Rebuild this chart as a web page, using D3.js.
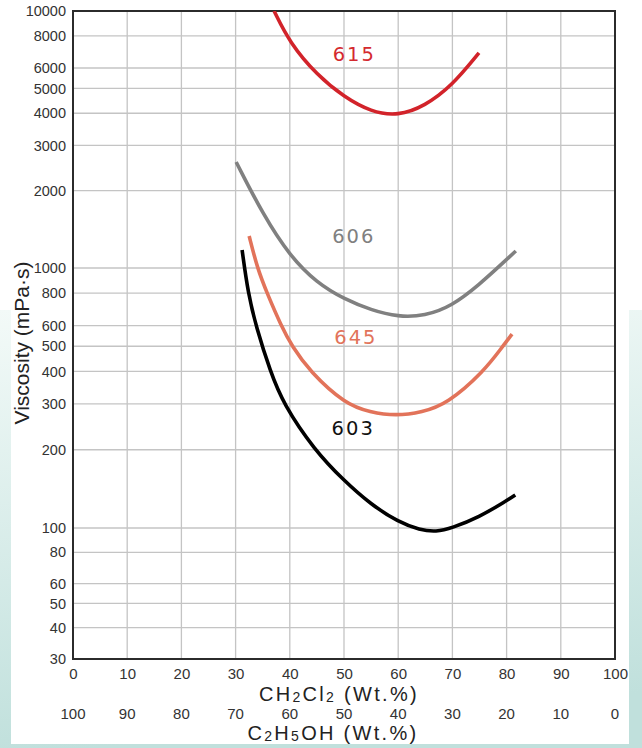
<!DOCTYPE html>
<html>
<head>
<meta charset="utf-8">
<script src="https://cdn.jsdelivr.net/npm/d3@7"></script>
<style>
	body { margin: 0; padding: 0; background: #fff; }
	svg { display: block; }
</style>
</head>
<body>
<div id="chart"></div>
<script>

// tick values and labels
var xTicks = [0, 10, 20, 30, 40, 50, 60, 70, 80, 90, 100];
var ethanolLabels = [100, 90, 80, 70, 60, 50, 40, 30, 20, 10, 0];
var yTicks = [30, 40, 50, 60, 80, 100, 200, 300, 400, 500, 600, 800, 1000, 2000, 3000, 4000, 5000, 6000, 8000, 10000];

// viscosity curves: [CH2Cl2 wt%, viscosity mPa·s]
var grade615 = [[37.1, 10000], [40.0, 7515], [45.0, 5641], [50.0, 4630], [55.0, 4048], [60.0, 3906], [64.9, 4269], [69.9, 5108], [74.9, 6867]];
var grade606 = [[30.1, 2585], [35.1, 1608], [40.0, 1114], [45.0, 876], [50.0, 760], [55.0, 689], [60.0, 648], [64.9, 654], [69.9, 714], [74.9, 860], [79.9, 1074], [81.7, 1165]];
var grade645 = [[32.5, 1332], [34.0, 1000], [35.8, 800], [38.4, 600], [40.4, 500], [43.7, 400], [50.2, 300], [54.8, 279], [59.6, 270], [64.4, 279], [69.0, 300], [75.8, 400], [79.3, 500], [81.0, 557]];
var grade603 = [[31.2, 1175], [32.3, 800], [33.8, 593], [36.4, 400], [38.8, 300], [44.5, 200], [50.0, 152], [55.0, 123], [60.0, 105.5], [64.0, 98.2], [67.0, 96.4], [69.9, 100], [74.9, 110], [79.9, 127], [81.6, 134]];

var gradeNames = ["615", "606", "645", "603"];
var gradeColors = ["#d2232a", "#808080", "#e2735a", "#000000"];
var labelColors = ["#d42a2f", "#808080", "#e2735a", "#111111"];
// label anchor, in data units
var labelPos = [[51.9, 6833], [51.8, 1332], [52.2, 543], [51.7, 242]];

function main(){

	var width = 642,
		height = 748;

	var left = 73, right = 615, top = 11, bottom = 659;

	var svg = d3.select("#chart").append("svg")
		.attr("width", width)
		.attr("height", height);

	// background panel
	var defs = svg.append("defs");
	var grad = defs.append("linearGradient")
		.attr("id", "bg")
		.attr("x1", 0).attr("y1", 0)
		.attr("x2", 0.15).attr("y2", 1);
	grad.append("stop").attr("offset", "0%").attr("stop-color", "#f3faf8");
	grad.append("stop").attr("offset", "100%").attr("stop-color", "#c0e0dc");

	defs.append("clipPath").attr("id", "plotclip")
		.append("rect")
		.attr("x", left).attr("y", top)
		.attr("width", right - left).attr("height", bottom - top);

	svg.append("rect")
		.attr("x", 0).attr("y", 310)
		.attr("width", width).attr("height", height - 310)
		.attr("fill", "url(#bg)");
	svg.append("rect")
		.attr("x", 11).attr("y", 0)
		.attr("width", 618).attr("height", 744)
		.attr("fill", "#ffffff");

	// scales (the printed log grid is not quite even, so map each decade)
	var x = d3.scaleLinear().domain([0, 100]).range([left, right]);
	var y = d3.scaleLog().domain([30, 100, 1000, 10000]).range([bottom, 528, 268, top]);

	// grid
	svg.append("g").selectAll("line")
		.data(xTicks)
		.enter().append("line")
		.attr("x1", d => x(d)).attr("x2", d => x(d))
		.attr("y1", top).attr("y2", bottom)
		.attr("stroke", "#c4c4c4")
		.attr("stroke-width", 1.3);

	svg.append("g").selectAll("line")
		.data(yTicks)
		.enter().append("line")
		.attr("x1", left).attr("x2", right)
		.attr("y1", d => y(d)).attr("y2", d => y(d))
		.attr("stroke", "#c4c4c4")
		.attr("stroke-width", 1.3);

	// frame
	svg.append("rect")
		.attr("x", left).attr("y", top)
		.attr("width", right - left).attr("height", bottom - top)
		.attr("fill", "none")
		.attr("stroke", "#2b2b2b")
		.attr("stroke-width", 2);

	// y axis labels
	var yAxis = d3.axisLeft(y).tickValues(yTicks).tickFormat(d3.format("d")).tickSize(0).tickPadding(7);
	var yg = svg.append("g")
		.attr("transform", "translate(" + left + ",0)")
		.call(yAxis);
	yg.select(".domain").remove();
	yg.selectAll("text")
		.attr("font-family", "'Liberation Sans', Arial, sans-serif")
		.attr("font-size", 14.5)
		.attr("fill", "#333");

	// x axis labels (CH2Cl2)
	var xAxis = d3.axisBottom(x).tickValues(xTicks).tickFormat(d3.format("d")).tickSize(0).tickPadding(0);
	var xg = svg.append("g")
		.attr("transform", "translate(0," + bottom + ")")
		.call(xAxis);
	xg.select(".domain").remove();
	xg.selectAll("text")
		.attr("dy", null)
		.attr("y", 20)
		.attr("font-family", "'Liberation Sans', Arial, sans-serif")
		.attr("font-size", 15)
		.attr("fill", "#333");

	// second row (C2H5OH)
	svg.append("g").selectAll("text")
		.data(xTicks)
		.enter().append("text")
		.attr("x", d => x(d))
		.attr("y", 719)
		.attr("text-anchor", "middle")
		.attr("font-family", "'Liberation Sans', Arial, sans-serif")
		.attr("font-size", 15)
		.attr("fill", "#333")
		.text((d, i) => ethanolLabels[i]);

	// axis titles
	function chemTitle(parts, cx, by){
		var t = svg.append("text")
			.attr("x", cx).attr("y", by)
			.attr("text-anchor", "middle")
			.attr("font-family", "'Liberation Sans', Arial, sans-serif")
			.attr("font-size", 20)
			.attr("letter-spacing", 2.3)
			.attr("fill", "#222");
		parts.forEach(function(p){
			t.append("tspan")
				.attr("font-size", p[1] ? 14 : 20)
				.attr("dy", p[1] ? 1 : (p[2] ? -1 : 0))
				.text(p[0]);
		});
	}
	chemTitle([["CH"], ["2", true], ["Cl", false, true], ["2", true], [" (Wt.%)", false, true]], 339, 701);
	chemTitle([["C"], ["2", true], ["H", false, true], ["5", true], ["OH (Wt.%)", false, true]], 333, 740);

	svg.append("text")
		.attr("transform", "translate(29,343) rotate(-90)")
		.attr("text-anchor", "middle")
		.attr("font-family", "'Liberation Sans', Arial, sans-serif")
		.attr("font-size", 21)
		.attr("fill", "#222")
		.text("Viscosity (mPa·s)");

	// curves - B-spline through the read points keeps them smooth like the print
	var line = d3.line()
		.x(d => x(d[0]))
		.y(d => y(d[1]))
		.curve(d3.curveBasis);

	var curves = [grade615, grade606, grade645, grade603];
	var plot = svg.append("g").attr("clip-path", "url(#plotclip)");
	curves.forEach(function(c, i){
		plot.append("path")
			.datum(c)
			.attr("d", line)
			.attr("fill", "none")
			.attr("stroke", gradeColors[i])
			.attr("stroke-width", 3.6)
			.attr("stroke-linecap", "butt");
	});

	// grade labels
	svg.append("g").selectAll("text")
		.data(gradeNames)
		.enter().append("text")
		.attr("x", (d, i) => x(labelPos[i][0]))
		.attr("y", (d, i) => y(labelPos[i][1]) + 7)
		.attr("text-anchor", "middle")
		.attr("font-family", "'DejaVu Sans', sans-serif")
		.attr("font-size", 19.5)
		.attr("letter-spacing", 2)
		.attr("fill", (d, i) => labelColors[i])
		.text(d => d);
}

main();
</script>
</body>
</html>
